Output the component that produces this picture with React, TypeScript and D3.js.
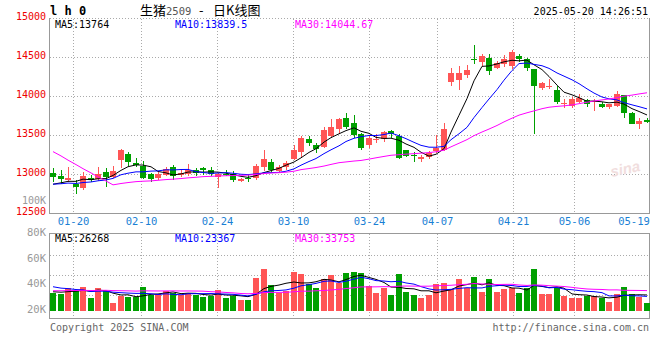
import React from 'react';
import * as d3 from 'd3';

// trading days shown (2025)
const DATES = [
  '01-15', '01-16', '01-17', '01-20', '01-21', '01-22', '01-23', '01-24', '01-27',
  '02-05', '02-06', '02-07', '02-10', '02-11', '02-12', '02-13', '02-14', '02-17', '02-18', '02-19', '02-20', '02-21',
  '02-24', '02-25', '02-26', '02-27', '02-28',
  '03-03', '03-04', '03-05', '03-06', '03-07', '03-10', '03-11', '03-12', '03-13', '03-14', '03-17', '03-18', '03-19',
  '03-20', '03-21', '03-24', '03-25', '03-26', '03-27', '03-28', '03-31',
  '04-01', '04-02', '04-03', '04-07', '04-08', '04-09', '04-10', '04-11', '04-14', '04-15', '04-16', '04-17', '04-18',
  '04-21', '04-22', '04-23', '04-24', '04-25', '04-28', '04-29', '04-30',
  '05-06', '05-07', '05-08', '05-09', '05-12', '05-13', '05-14', '05-15', '05-16', '05-19', '05-20',
];

const OPEN = [
  13015, 12970, 12925, 12870, 12815, 12955, 12935, 13030, 12960, 13180, 13260, 13140, 13110, 13005, 12955, 12990,
  13090, 12990, 13000, 13055, 13075, 13055, 12960, 13005, 13000, 12905, 12955, 12945, 13095, 13150, 13040, 13085,
  13190, 13285, 13450, 13370, 13350, 13485, 13585, 13720, 13660, 13515, 13370, 13435, 13450, 13550, 13490, 13310,
  13250, 13190, 13220, 13295, 13310, 14185, 14205, 14270, 14485, 14440, 14495, 14370, 14420, 14390, 14515, 14485,
  14345, 14110, 14120, 14075, 13905, 13875, 13925, 13955, 13925, 13895, 13865, 13875, 14015, 13780, 13650, 13700,
];
const HIGH = [
  13075, 13055, 13090, 12920, 13025, 12985, 13095, 13075, 13105, 13320, 13285, 13210, 13170, 13020, 13030, 13090,
  13115, 13065, 13130, 13075, 13090, 13090, 13020, 13055, 13035, 12955, 12985, 13135, 13315, 13200, 13115, 13165,
  13370, 13485, 13485, 13395, 13605, 13705, 13725, 13790, 13755, 13530, 13495, 13520, 13555, 13565, 13520, 13315,
  13280, 13245, 13300, 13500, 13660, 14370, 14395, 14405, 14655, 14540, 14540, 14460, 14525, 14590, 14545, 14495,
  14345, 14185, 14225, 14130, 13970, 13990, 14035, 13970, 13970, 13925, 13905, 14065, 14015, 13800, 13725, 13725,
];
const LOW = [
  12895, 12875, 12895, 12740, 12800, 12900, 12905, 12840, 12945, 13075, 13105, 13090, 12935, 12895, 12925, 12970,
  12925, 12960, 12980, 12970, 12990, 12970, 12825, 12980, 12900, 12895, 12895, 12930, 13040, 13010, 13010, 13050,
  13180, 13220, 13360, 13275, 13340, 13470, 13515, 13575, 13470, 13315, 13340, 13405, 13410, 13460, 13190, 13215,
  13160, 13160, 13200, 13265, 13300, 14130, 14075, 14240, 14420, 14395, 14270, 14355, 14375, 14355, 14440, 14325,
  13515, 14085, 14100, 13895, 13855, 13855, 13915, 13865, 13810, 13855, 13840, 13865, 13720, 13640, 13575, 13660,
];
const CLOSE = [
  12960, 12940, 12955, 12840, 12980, 12925, 13000, 12965, 13045, 13305, 13160, 13115, 12955, 12935, 13005, 13070,
  12980, 13020, 13055, 13020, 13050, 13000, 13000, 12990, 12925, 12940, 12935, 13110, 13190, 13050, 13085, 13140,
  13310, 13460, 13400, 13320, 13565, 13600, 13705, 13605, 13500, 13340, 13470, 13445, 13535, 13515, 13210, 13230,
  13230, 13220, 13265, 13330, 13585, 14300, 14300, 14340, 14470, 14515, 14325, 14430, 14475, 14570, 14480, 14370,
  14130, 14165, 14130, 13925, 13915, 13960, 13980, 13905, 13935, 13865, 13895, 14025, 13780, 13640, 13685, 13670,
];
// volume, thousands
const VOLUME = [
  34.3, 33.2, 38.2, 35.8, 38.9, 30.4, 38.2, 35.6, 26.5, 31.7, 31.1, 30.7, 38.9, 32.5, 33.2, 35.4,
  34.3, 32.2, 34.3, 32.5, 31.1, 31.7, 36.6, 30.4, 31.7, 28.6, 28.6, 45.7, 52.7, 40.3, 33.8, 35.6,
  50.6, 48.8, 40.8, 38.2, 44.9, 48.1, 41.6, 49.6, 50.4, 49.6, 39.5, 34.0, 37.7, 32.5, 48.8, 34.8,
  32.5, 30.1, 32.5, 41.0, 41.8, 37.1, 44.9, 38.2, 46.7, 35.0, 44.9, 35.0, 37.1, 37.7, 34.3, 37.7,
  52.7, 33.2, 33.2, 37.7, 31.9, 30.4, 30.4, 31.7, 31.9, 29.9, 27.2, 33.2, 38.9, 33.2, 30.7, 26.5,
];
// the 29 sessions before the first one (for the moving averages)
const PRE_CLOSE = [
  14600, 14580, 14560, 14550, 14560, 14540, 14530, 14550,
  12780, 12800, 12760, 12790, 12810, 12770, 12800, 12820, 12790, 12780, 12800, 12800,
  12880, 12870, 12890, 12860, 12850, 12850, 12860, 12840, 12840,
];
const PRE_VOLUME = [
  34, 35, 33, 36, 34, 35, 33, 34, 35, 34, 36, 33, 34, 35, 34, 33, 35, 34, 34, 34,
  44, 42, 43, 41, 44, 35, 36, 34, 35.7,
];

const PRICE_TICKS = [12500, 13000, 13500, 14000, 14500, 15000];
const VOL_TICKS = [20, 40, 60, 80];
const DATE_TICKS = ['01-20', '02-10', '02-24', '03-10', '03-24', '04-07', '04-21', '05-06', '05-19'];
const MA_PERIODS = [5, 10, 30];
const MA_COLORS = ['#000000', '#0000ff', '#ff00ff'];
const PRICE_MA_TEXT = ['MA5:13764', 'MA10:13839.5', 'MA30:14044.67'];
const VOL_MA_TEXT = ['MA5:26268', 'MA10:23367', 'MA30:33753'];

const UP = '#ff5555';
const DOWN = '#00a000';
const MONO = '"DejaVu Sans Mono", "Liberation Mono", monospace';
const CJK = '"Noto Sans CJK SC", sans-serif';

function movingAvg(pre: number[], vals: number[], n: number) {
  const all = pre.concat(vals);
  return vals.map((_, i) => d3.mean(all.slice(pre.length + i - n + 1, pre.length + i + 1)) as number);
}

export default function App() {
  const left = 50, right = 649;
  const n = DATES.length;
  const idx = d3.range(n);
  // candle slots
  const x = d3.scaleBand<number>().domain(idx).range([left, right + 1]).paddingInner(0.2).paddingOuter(0);
  // date grid positions
  const gx = d3.scalePoint<number>().domain(idx).range([left, right + 1]);
  const bx = (i: number) => Math.round(x(i)!);
  const y = d3.scaleLinear().domain([12500, 15000]).range([213, 18.5]);
  const vy = d3.scaleLinear().domain([20, 80]).range([311, 234]);
  const volTop = 234, volBot = 318, volBase = 311;

  const priceMA = MA_PERIODS.map((p) => movingAvg(PRE_CLOSE, CLOSE, p));
  const volMA = MA_PERIODS.map((p) => movingAvg(PRE_VOLUME, VOLUME, p));
  const line = (sy: (v: number) => number) =>
    d3.line<number>().x((_, i) => bx(i) + 3).y((v) => sy(v));

  const gridX = DATE_TICKS.map((d) => Math.round(gx(DATES.indexOf(d))!) + 0.5);

  return (
    <svg width={660} height={360} style={{ position: 'absolute', left: 0, top: 0, background: '#fff' }}>
      {/* header */}
      <text x={50} y={15} fontFamily={MONO} fontSize={12} fontWeight="bold" fill="#000">l h 0</text>
      <text x={140} y={15} fontFamily={CJK} fontSize={13} fill="#000">生猪</text>
      <text x={166} y={15} fontFamily={MONO} fontSize={10.5} fill="#555">2509</text>
      <text x={199} y={15} fontFamily={CJK} fontSize={13} fill="#000">-</text>
      <text x={213} y={15} fontFamily={CJK} fontSize={13} fill="#000">日K线图</text>
      <text x={648} y={15} textAnchor="end" fontFamily={MONO} fontSize={10} fill="#000">2025-05-20 14:26:51</text>

      {/* price grid */}
      <g shapeRendering="crispEdges">
        {PRICE_TICKS.slice(1).map((t) => (
          <line key={t} x1={left} x2={right} y1={y(t)} y2={y(t)} stroke="#aaa" strokeDasharray="1,2" />
        ))}
        {gridX.slice(0, -1).map((g, i) => (
          <line key={i} x1={g} x2={g} y1={18.5} y2={213} stroke="#aaa" strokeDasharray="1,2" />
        ))}
        <line x1={left} x2={right} y1={213.5} y2={213.5} stroke="#999" />
        <line x1={left - 0.5} x2={left - 0.5} y1={18} y2={214} stroke="#999" strokeWidth={1.5} />
        <line x1={right + 0.5} x2={right + 0.5} y1={18} y2={214} stroke="#999" strokeWidth={1.5} />
      </g>
      {PRICE_TICKS.map((t) => (
        <text key={t} x={46} y={y(t) + 1.5} textAnchor="end" fontFamily={MONO} fontSize={10} fill="#ee0000">{t}</text>
      ))}
      <text x={46} y={204} textAnchor="end" fontFamily={MONO} fontSize={10} fill="#999">100K</text>

      {/* watermark */}
      <text x={610} y={174} fontFamily="Verdana, sans-serif" fontSize={15} fontStyle="italic" fontWeight="bold"
        fill="#f1dede" transform="rotate(-12 625 168)">sina</text>

      {/* candles */}
      {CLOSE.map((c, i) => {
        const o = OPEN[i];
        const col = c >= o ? UP : DOWN;
        const top = Math.round(y(Math.max(o, c)));
        const h = Math.max(1, Math.round(y(Math.min(o, c))) - top);
        return (
          <g key={i} shapeRendering="crispEdges">
            <line x1={bx(i) + 3} x2={bx(i) + 3} y1={Math.round(y(HIGH[i]))} y2={Math.round(y(LOW[i]))} stroke={col} />
            <rect x={bx(i)} y={top} width={6} height={h} fill={col} />
          </g>
        );
      })}
      {priceMA.map((m, k) => (
        <path key={k} d={line(y)(m)!} fill="none" stroke={MA_COLORS[k]} strokeWidth={1} />
      ))}
      {PRICE_MA_TEXT.map((t, k) => (
        <text key={t} x={55 + k * 120} y={27.5} fontFamily={MONO} fontSize={10} fill={MA_COLORS[k]}>{t}</text>
      ))}

      {/* date labels */}
      {DATE_TICKS.map((d, i) => (
        <text key={d} x={Math.min(gridX[i], right - 15)} y={225} textAnchor="middle" fontFamily={MONO}
          fontSize={10.5} fill="#1a7fd4">{d}</text>
      ))}

      {/* volume */}
      <g shapeRendering="crispEdges">
        {[255, 275, 295].map((g) => (
          <line key={g} x1={left} x2={right} y1={g} y2={g} stroke="#aaa" strokeDasharray="1,2" />
        ))}
        {gridX.slice(0, -1).map((g, i) => (
          <line key={i} x1={g} x2={g} y1={volTop} y2={volBot} stroke="#aaa" strokeDasharray="1,2" />
        ))}
        <rect x={left - 0.5} y={volTop - 0.5} width={right - left + 1} height={volBot - volTop + 1} fill="none"
          stroke="#999" strokeWidth={1.5} />
        {VOLUME.map((v, i) => (
          <rect key={i} x={bx(i)} y={Math.round(vy(v))} width={6} height={volBase - Math.round(vy(v))}
            fill={CLOSE[i] >= OPEN[i] ? UP : DOWN} />
        ))}
      </g>
      {volMA.map((m, k) => (
        <path key={k} d={line(vy)(m)!} fill="none" stroke={MA_COLORS[k]} strokeWidth={1} />
      ))}
      {VOL_TICKS.map((t) => (
        <text key={t} x={46} y={vy(t) + 2} textAnchor="end" fontFamily={MONO} fontSize={10.5} fill="#999">{t}K</text>
      ))}
      {VOL_MA_TEXT.map((t, k) => (
        <text key={t} x={55 + k * 120} y={241.5} fontFamily={MONO} fontSize={10} fill={MA_COLORS[k]}>{t}</text>
      ))}

      {/* footer */}
      <text x={50} y={331} fontFamily={MONO} fontSize={10} fill="#666">Copyright 2025 SINA.COM</text>
      <text x={649} y={331} textAnchor="end" fontFamily={MONO} fontSize={10} fill="#666">http://finance.sina.com.cn</text>
    </svg>
  );
}
